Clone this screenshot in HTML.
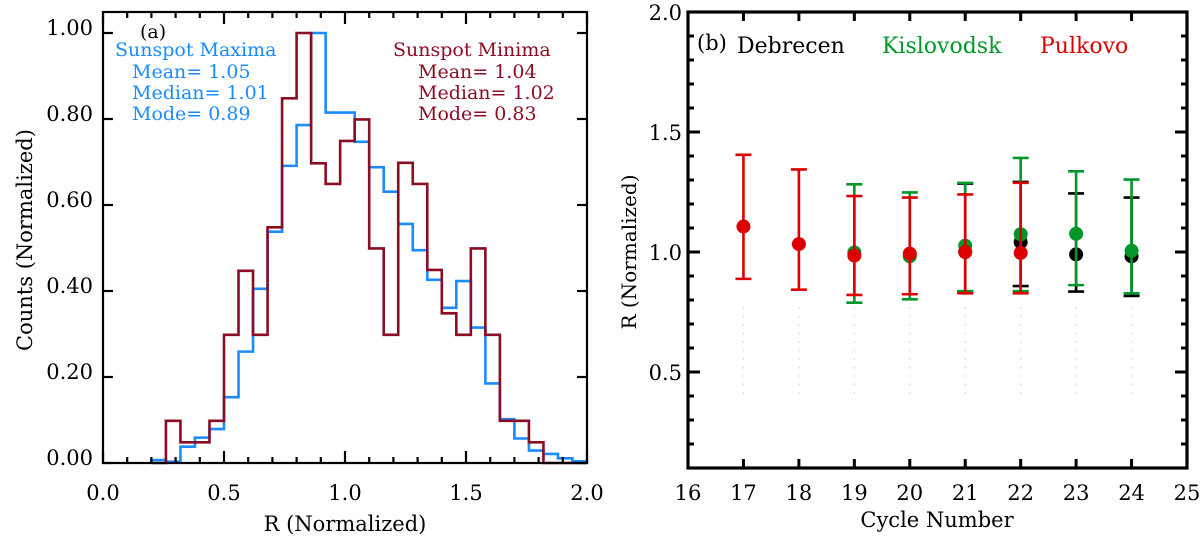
<!DOCTYPE html>
<html><head><meta charset="utf-8"><style>
body{margin:0;background:#fff;}
svg{display:block;}
svg text{font-family:"DejaVu Serif","Liberation Serif",serif;}
</style></head><body>
<svg id="c" width="1200" height="542" viewBox="0 0 1200 542" font-family="DejaVu Serif, Liberation Serif, serif"></svg>
<script>
// Panel (a) data
const binStart = 0.2;
const binWidth = 0.06;
const maximaCounts = [0.007,0.003,0.038,0.059,0.079,0.153,0.259,0.405,0.538,0.691,0.786,1.0,0.815,0.815,0.747,0.688,0.631,0.556,0.495,0.426,0.361,0.423,0.315,0.185,0.102,0.057,0.029,0.021,0.011,0.004];
const minimaCounts = [0,0.098,0.048,0.048,0.098,0.298,0.447,0.298,0.548,0.848,1.0,0.697,0.649,0.749,0.799,0.499,0.298,0.698,0.649,0.449,0.348,0.298,0.499,0.298,0.098,0.098,0.048,0,0,0];
const aYTicks = ["0.00","0.20","0.40","0.60","0.80","1.00"];
const aXTicks = ["0.0","0.5","1.0","1.5","2.0"];
// Panel (b) data
const cycles = [17,18,19,20,21,22,23,24];
const debVal = [null,null,null,null,1.0,1.041,0.990,0.982];
const debHi  = [null,null,null,null,1.285,1.292,1.244,1.227];
const debLo  = [null,null,null,null,0.835,0.858,0.835,0.817];
const kisVal = [null,null,0.998,0.982,1.026,1.074,1.076,1.005];
const kisHi  = [null,null,1.282,1.248,1.288,1.392,1.336,1.302];
const kisLo  = [null,null,0.789,0.803,0.837,0.837,0.862,0.828];
const pulVal = [1.106,1.033,0.985,0.993,1.0,0.996,null,null];
const pulHi  = [1.405,1.344,1.233,1.227,1.240,1.288,null,null];
const pulLo  = [0.888,0.843,0.821,0.824,0.828,0.828,null,null];
const bXTicks = ["16","17","18","19","20","21","22","23","24","25"];
const bYTicks = ["0.5","1.0","1.5","2.0"];

const NS="http://www.w3.org/2000/svg";
const svg=document.getElementById('c');
const FF='DejaVu Serif, Liberation Serif, serif';
function mk(tag,attrs,parent){const e=document.createElementNS(NS,tag);for(const k in attrs)e.setAttribute(k,attrs[k]);(parent||svg).appendChild(e);return e;}
function txt(s,attrs,parent){attrs['font-family']=FF;const e=mk('text',attrs,parent);e.textContent=s;return e;}

// ---------- Panel (a) ----------
const ax0=103, ax1=587, ayTop=12, ayBot=463;
const ax=v=>ax0+(v-0)/2*(ax1-ax0);
const ay=v=>463-v*430;
const gA=mk('g',{});


function stepPath(counts){
  let d='';
  counts.forEach((c,i)=>{
    const x0=ax(binStart+i*binWidth), x1=ax(binStart+(i+1)*binWidth), y=ay(c);
    d+=(i===0?'M'+x0+','+ay(0)+' L'+x0+','+y:' L'+x0+','+y)+' L'+x1+','+y;
  });
  d+=' L'+ax(binStart+counts.length*binWidth)+','+ay(0);
  return d;
}
const hb=mk('path',{d:stepPath(maximaCounts),fill:'none',stroke:'#1a8cff','stroke-width':2.6},gA);


const hr=mk('path',{d:stepPath(minimaCounts),fill:'none',stroke:'#8b0d24','stroke-width':2.6},gA);


mk('rect',{x:ax0,y:ayTop,width:ax1-ax0,height:ayBot-ayTop,fill:'none',stroke:'#000','stroke-width':2.2},gA);
aYTicks.forEach(t=>{const v=parseFloat(t),y=ay(v);
  mk('line',{x1:ax0,x2:ax0+10,y1:y,y2:y,stroke:'#000','stroke-width':2.2},gA);
  mk('line',{x1:ax1,x2:ax1-10,y1:y,y2:y,stroke:'#000','stroke-width':2.2},gA);
  const l=txt(t,{x:ax0-10,y:y+2,'text-anchor':'end','font-size':21},gA);
  
  
});
for(let i=0;i<=20;i++){const v=i*0.1,x=ax(v),len=(i%5===0)?12:6;
  mk('line',{x1:x,x2:x,y1:ayBot,y2:ayBot-len,stroke:'#000','stroke-width':2.2},gA);
  mk('line',{x1:x,x2:x,y1:ayTop,y2:ayTop+len,stroke:'#000','stroke-width':2.2},gA);}
aXTicks.forEach(t=>{const l=txt(t,{x:ax(parseFloat(t)),y:500,'text-anchor':'middle','font-size':21},gA);
  
  });
let t1=txt('R (Normalized)',{x:345,y:531,'text-anchor':'middle','font-size':21},gA);


let t2=txt('Counts (Normalized)',{x:0,y:0,'text-anchor':'middle','font-size':21,transform:'translate(32,240) rotate(-90)'},gA);


let pa=txt('(a)',{x:140,y:38,'font-size':19},gA);


const blue='#1a8cff', dred='#8b0d24';
[['Sunspot Maxima',115,56],['Mean= 1.05',132,78],['Median= 1.01',132,99],['Mode= 0.89',132,120]].forEach(a=>{
  const l=txt(a[0],{x:a[1],y:a[2],'font-size':19,fill:blue},gA);
  
  });
[['Sunspot Minima',393,56],['Mean= 1.04',418,78],['Median= 1.02',418,99],['Mode= 0.83',418,120]].forEach(a=>{
  const l=txt(a[0],{x:a[1],y:a[2],'font-size':19,fill:dred},gA);
  
  });

// ---------- Panel (b) ----------
const bx0=688,bx1=1187,byTop=12,byBot=468;
const bx=v=>bx0+(v-16)/9*(bx1-bx0);
const by=v=>byBot-(v-0.1)/1.9*(byBot-byTop);
const gB=mk('g',{});


cycles.forEach(c=>{mk('line',{x1:bx(c),x2:bx(c),y1:by(0.77),y2:by(0.4),stroke:'#d8d8d8','stroke-width':1.5,'stroke-dasharray':'1.5,7'},gB);});
function series(vals,hi,lo,color,name){
  const g=mk('g',{},gB);
  
  
  cycles.forEach((c,i)=>{ if(vals[i]==null)return; const x=bx(c);
    mk('line',{x1:x,x2:x,y1:by(hi[i]),y2:by(lo[i]),stroke:color,'stroke-width':2.6},g);
    mk('line',{x1:x-8,x2:x+8,y1:by(hi[i]),y2:by(hi[i]),stroke:color,'stroke-width':2.6},g);
    mk('line',{x1:x-8,x2:x+8,y1:by(lo[i]),y2:by(lo[i]),stroke:color,'stroke-width':2.6},g);
    const p=mk('circle',{cx:x,cy:by(vals[i]),r:7,fill:color},g);
    
    
  });
}
series(debVal,debHi,debLo,'#000','debrecen-series');
series(kisVal,kisHi,kisLo,'#00962a','kislovodsk-series');
series(pulVal,pulHi,pulLo,'#dd0000','pulkovo-series');
mk('rect',{x:bx0,y:byTop,width:bx1-bx0,height:byBot-byTop,fill:'none',stroke:'#000','stroke-width':3.2},gB);
for(let i=1;i<=20;i++){const v=i*0.1,y=by(v),len=(i%5===0)?12:6;
  mk('line',{x1:bx0,x2:bx0+len,y1:y,y2:y,stroke:'#000','stroke-width':3},gB);
  mk('line',{x1:bx1,x2:bx1-len,y1:y,y2:y,stroke:'#000','stroke-width':3},gB);}
bYTicks.forEach(t=>{const l=txt(t,{x:bx0-6,y:by(parseFloat(t))+8,'text-anchor':'end','font-size':21},gB);
  
  });
bXTicks.forEach(t=>{const x=bx(parseFloat(t));
  mk('line',{x1:x,x2:x,y1:byBot,y2:byBot-9,stroke:'#000','stroke-width':3},gB);
  mk('line',{x1:x,x2:x,y1:byTop,y2:byTop+9,stroke:'#000','stroke-width':3},gB);
  const l=txt(t,{x:x,y:500,'text-anchor':'middle','font-size':21},gB);
  
  });
let t3=txt('Cycle Number',{x:937,y:527,'text-anchor':'middle','font-size':21},gB);


let t4=txt('R (Normalized)',{x:0,y:0,'text-anchor':'middle','font-size':20,transform:'translate(636,252) rotate(-90)'},gB);


let pb=txt('(b)',{x:697,y:50,'font-size':21},gB);


[['Debrecen',737,'#000','legend-debrecen'],['Kislovodsk',882,'#00962a','legend-kislovodsk'],['Pulkovo',1040,'#dd0000','legend-pulkovo']].forEach(a=>{
  const l=txt(a[0],{x:a[1],y:53,'font-size':22,fill:a[2]},gB);
  
  });
</script>
</body></html>
